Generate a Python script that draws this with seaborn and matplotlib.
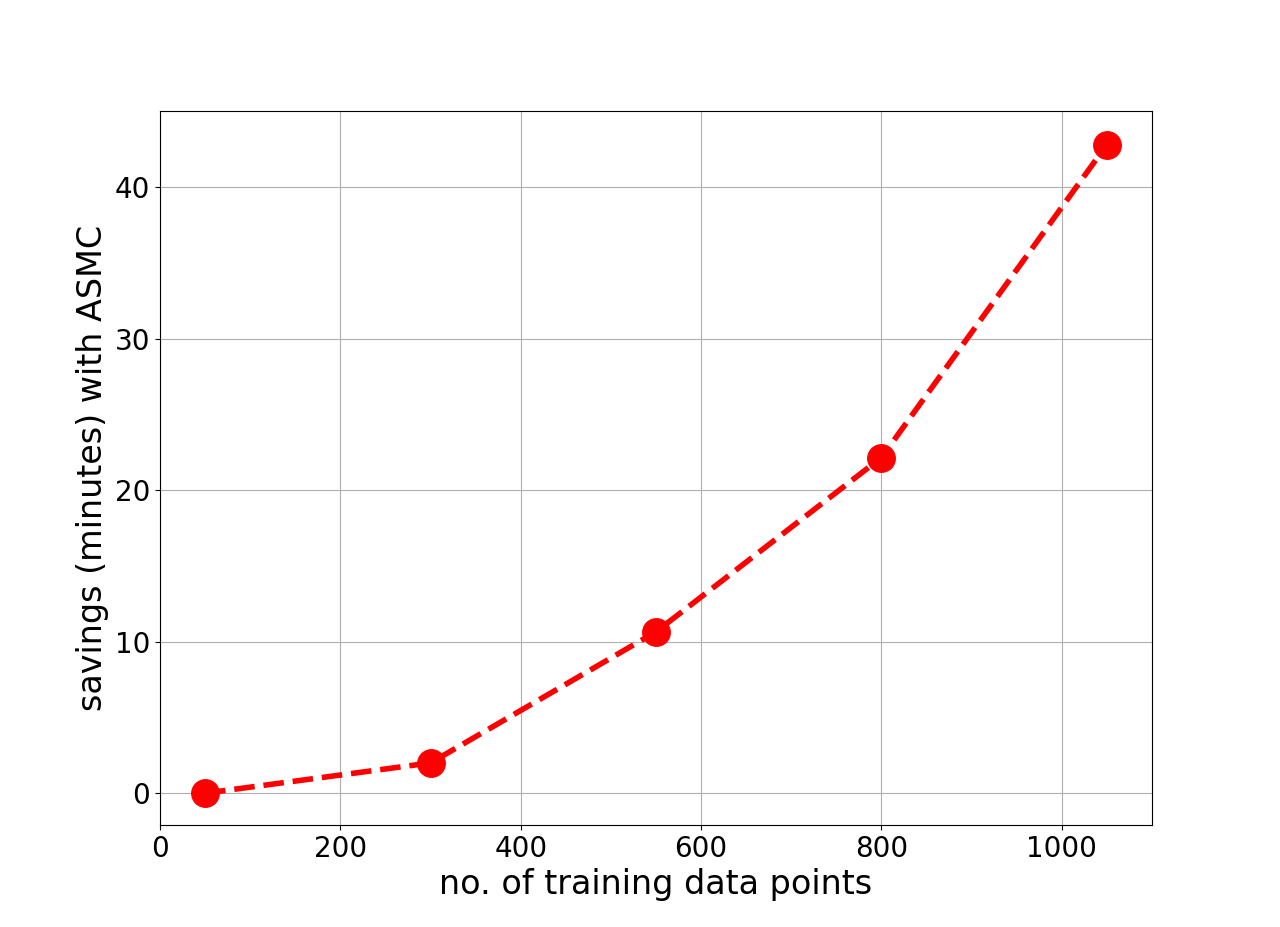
import seaborn as sns
import matplotlib.pyplot as plt
import pandas as pd

# data
train_points = [50, 300, 550, 800, 1050]
savings_min = [0.0, 2.0, 10.65, 22.15, 42.8]


def make_plot():
  df = pd.DataFrame({'n': train_points, 'savings': savings_min})

  fig, ax = plt.subplots(figsize=(12.8, 9.27), dpi=100)
  sns.lineplot(data=df, x='n', y='savings', ax=ax, color='red',
               linestyle='--', linewidth=4, marker='o', markersize=20,
               markeredgecolor='red')
  ax.grid(True)
  ax.set_xlim(0, 1100)
  ax.set_ylim(-2.1, 45)
  ax.set_xticks([0, 200, 400, 600, 800, 1000])
  ax.set_yticks([0, 10, 20, 30, 40])
  ax.tick_params(labelsize=20)
  ax.set_xlabel('no. of training data points', fontsize=24)
  ax.set_ylabel('savings (minutes) with ASMC', fontsize=24)
  fig.savefig('out.png', dpi=100)


if __name__ == "__main__":
  make_plot()
